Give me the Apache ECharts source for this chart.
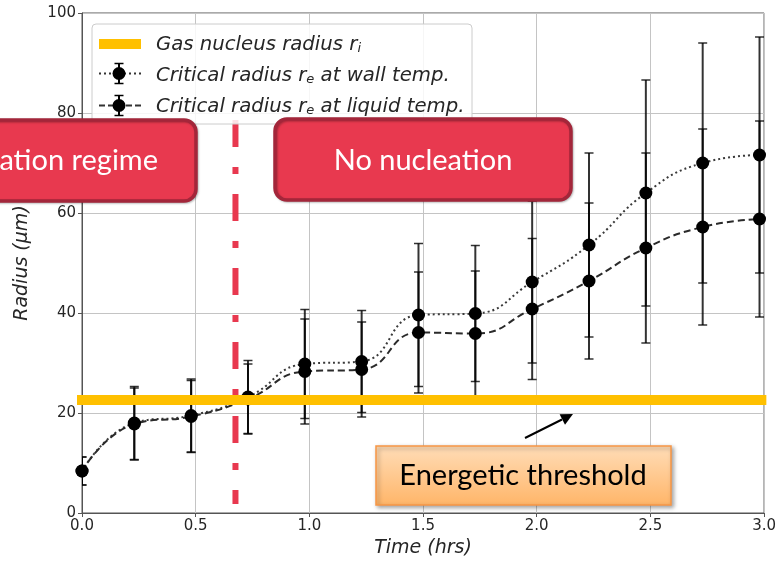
<!DOCTYPE html>
<html>
<head>
<meta charset="utf-8">
<script src="https://cdn.jsdelivr.net/npm/echarts@6/dist/echarts.min.js"></script>
<style>html,body{margin:0;padding:0;background:#fff;}#chart{width:779px;height:565px;}</style>
</head>
<body>
<div id="chart"></div>
<script>
// ---- data ----
var times = [0, 0.23, 0.48, 0.73, 0.98, 1.23, 1.48, 1.73, 1.98, 2.23, 2.48, 2.73, 2.98];
var wallRadius = [8.4, 18.0, 19.5, 23.2, 29.8, 30.3, 39.6, 39.9, 46.2, 53.6, 64.0, 70.0, 71.6];
var wallErr = [2.8, 7.3, 7.3, 7.3, 10.9, 10.2, 14.3, 13.6, 16.2, 18.4, 22.6, 24.0, 23.6];
var liquidRadius = [8.4, 17.8, 19.3, 22.8, 28.3, 28.7, 36.1, 35.9, 40.8, 46.4, 53.0, 57.2, 58.8];
var liquidErr = [2.8, 7.2, 7.2, 7.0, 10.5, 9.5, 12.1, 12.5, 14.1, 15.6, 19.0, 19.6, 19.6];
var gasNucleusRadius = 22.6;
var gasLineTimes = [-0.03, 3.01];
var regimeBoundaryTime = 0.675;
var regimeBoundaryY = [78.6, 1.8];
var xTicks = [0, 0.5, 1.0, 1.5, 2.0, 2.5, 3.0];
var yTicks = [0, 20, 40, 60, 80, 100];

function pairs(xs, ys) { return xs.map(function (x, i) { return [x, ys[i]]; }); }
function errData(xs, ys, es) { return xs.map(function (x, i) { return [x, ys[i] - es[i], ys[i] + es[i]]; }); }

function errRender(params, api) {
  var x = api.value(0), lo = api.value(1), hi = api.value(2);
  var a = api.coord([x, lo]), b = api.coord([x, hi]);
  var st = { stroke: 'rgba(0,0,0,0.8)', lineWidth: 2 };
  var cs = { stroke: 'rgba(0,0,0,0.8)', lineWidth: 1.5 };
  return { type: 'group', children: [
    { type: 'line', shape: { x1: a[0], y1: a[1], x2: b[0], y2: b[1] }, style: st },
    { type: 'line', shape: { x1: a[0] - 4.5, y1: a[1], x2: a[0] + 4.5, y2: a[1] }, style: cs },
    { type: 'line', shape: { x1: b[0] - 4.5, y1: b[1], x2: b[0] + 4.5, y2: b[1] }, style: cs }
  ] };
}

var FONT = 'DejaVu Sans';
var chart = echarts.init(document.getElementById('chart'));

function legendRow(y, dash) {
  return [
    { type: 'line', z: 51, shape: { x1: 99, y1: y, x2: 141, y2: y }, style: { stroke: '#333', lineWidth: 2, lineDash: dash } },
    { type: 'line', z: 52, shape: { x1: 119, y1: y - 10, x2: 119, y2: y + 10 }, style: { stroke: '#000', lineWidth: 2 } },
    { type: 'line', z: 52, shape: { x1: 114.5, y1: y - 10, x2: 123.5, y2: y - 10 }, style: { stroke: '#000', lineWidth: 1.5 } },
    { type: 'line', z: 52, shape: { x1: 114.5, y1: y + 10, x2: 123.5, y2: y + 10 }, style: { stroke: '#000', lineWidth: 1.5 } },
    { type: 'circle', z: 53, shape: { cx: 119, cy: y, r: 6.5 }, style: { fill: '#000' } }
  ];
}

var legendRich = {
  a: { fontFamily: FONT, fontStyle: 'italic', fontSize: 19.7, color: '#262626', lineHeight: 24, verticalAlign: 'bottom' },
  s: { fontFamily: FONT, fontStyle: 'italic', fontSize: 13, color: '#262626', lineHeight: 17, verticalAlign: 'bottom' }
};
function legendText(y, str) {
  return { type: 'text', z: 53, x: 156, y: y, style: { text: str, rich: legendRich, fill: '#262626',
    align: 'left', textAlign: 'left', verticalAlign: 'middle', textVerticalAlign: 'middle' } };
}

var graphics = [
  { type: 'rect', z: 50, shape: { x: 92, y: 24, width: 380, height: 100, r: 4 }, style: { fill: 'rgba(255,255,255,0.85)', stroke: '#cccccc', lineWidth: 1 } },
  { type: 'line', z: 51, shape: { x1: 99, y1: 44, x2: 141, y2: 44 }, style: { stroke: '#FFC000', lineWidth: 10 } },
  legendText(43, '{a|Gas nucleus radius r}{s|i}'),
  legendText(74, '{a|Critical radius r}{s|e}{a| at wall temp.}'),
  legendText(105, '{a|Critical radius r}{s|e}{a| at liquid temp.}')
].concat(legendRow(73.5, [2, 3])).concat(legendRow(105.5, [6, 3])).concat([
  // red boxes
  { type: 'rect', z: 100, shape: { x: -20, y: 120, width: 216, height: 81, r: 12 },
    style: { fill: '#E8394F', stroke: '#A3263A', lineWidth: 3.5, shadowBlur: 2, shadowOffsetX: 1, shadowOffsetY: 1, shadowColor: 'rgba(0,0,0,0.25)' } },
  { type: 'text', z: 101, x: 158, y: 161, style: { text: 'Nucleation regime', font: '29px Lato', fill: '#fff',
    align: 'right', textAlign: 'right', verticalAlign: 'middle', textVerticalAlign: 'middle' } },
  { type: 'rect', z: 100, shape: { x: 275, y: 119, width: 296, height: 81, r: 12 },
    style: { fill: '#E8394F', stroke: '#A3263A', lineWidth: 3.5, shadowBlur: 2, shadowOffsetX: 1, shadowOffsetY: 1, shadowColor: 'rgba(0,0,0,0.25)' } },
  { type: 'text', z: 101, x: 423, y: 161, style: { text: 'No nucleation', font: '29px Lato', fill: '#fff',
    align: 'center', textAlign: 'center', verticalAlign: 'middle', textVerticalAlign: 'middle' } },
  // orange box
  { type: 'rect', z: 100, shape: { x: 376, y: 446, width: 295, height: 59 },
    style: { fill: new echarts.graphic.LinearGradient(0, 0, 0, 1, [{ offset: 0, color: '#FFDDB8' }, { offset: 1, color: '#FFB568' }]),
      stroke: '#F79646', lineWidth: 1.5, shadowBlur: 4, shadowOffsetX: 2, shadowOffsetY: 2, shadowColor: 'rgba(0,0,0,0.35)' } },
  { type: 'text', z: 101, x: 523, y: 476, style: { text: 'Energetic threshold', font: '29px Lato', fill: '#000',
    align: 'center', textAlign: 'center', verticalAlign: 'middle', textVerticalAlign: 'middle' } },
  // arrow
  { type: 'line', z: 100, shape: { x1: 525, y1: 438, x2: 562, y2: 419.5 }, style: { stroke: '#000', lineWidth: 2 } },
  { type: 'polygon', z: 100, shape: { points: [[573, 414], [565, 424.8], [559.6, 414.2]] }, style: { fill: '#000' } }
]);

var option = {
  animation: false,
  backgroundColor: '#fff',
  grid: { left: 82, right: 13, top: 13, bottom: 52, show: true, borderColor: '#555', borderWidth: 1, containLabel: false },
  xAxis: {
    type: 'value', min: xTicks[0], max: xTicks[xTicks.length - 1], interval: 0.5,
    name: 'Time (hrs)', nameLocation: 'middle', nameGap: 26,
    nameTextStyle: { fontFamily: FONT, fontStyle: 'italic', fontSize: 19, color: '#262626' },
    axisLine: { lineStyle: { color: '#555', width: 1 } },
    axisTick: { show: true, length: 4, lineStyle: { color: '#555' } },
    axisLabel: { fontFamily: FONT, fontSize: 15, color: '#262626', margin: 6, formatter: function (v) { return v.toFixed(1); } },
    splitLine: { show: true, lineStyle: { color: '#c4c4c4', width: 1 } }
  },
  yAxis: {
    type: 'value', min: yTicks[0], max: yTicks[yTicks.length - 1], interval: 20,
    name: 'Radius (μm)', nameLocation: 'middle', nameGap: 50,
    nameTextStyle: { fontFamily: FONT, fontStyle: 'italic', fontSize: 19, color: '#262626' },
    axisLine: { show: true, lineStyle: { color: '#555', width: 1 } },
    axisTick: { show: true, length: 4, lineStyle: { color: '#555' } },
    axisLabel: { fontFamily: FONT, fontSize: 15, color: '#262626', margin: 6 },
    splitLine: { show: true, lineStyle: { color: '#c4c4c4', width: 1 } }
  },
  series: [
    { name: 'wallErr', type: 'custom', z: 3, clip: true, renderItem: errRender, data: errData(times, wallRadius, wallErr) },
    { name: 'liquidErr', type: 'custom', z: 3, clip: true, renderItem: errRender, data: errData(times, liquidRadius, liquidErr) },
    { name: 'Critical radius re at wall temp.', type: 'line', z: 4, smooth: 0.5, data: pairs(times, wallRadius),
      symbol: 'circle', symbolSize: 13, itemStyle: { color: '#000' },
      lineStyle: { color: '#3a3a3a', width: 2, type: [2, 3] } },
    { name: 'Critical radius re at liquid temp.', type: 'line', z: 4, smooth: 0.5, data: pairs(times, liquidRadius),
      symbol: 'circle', symbolSize: 13, itemStyle: { color: '#000' },
      lineStyle: { color: '#2a2a2a', width: 2, type: [7, 4] } },
    { name: 'regime boundary', type: 'line', z: 5, clip: false, symbol: 'none',
      data: [[regimeBoundaryTime, regimeBoundaryY[0]], [regimeBoundaryTime, regimeBoundaryY[1]]],
      lineStyle: { color: '#E8384F', width: 6, type: [27, 20, 7, 20] } },
    { name: 'Gas nucleus radius ri', type: 'line', z: 6, clip: false, symbol: 'none',
      data: [[gasLineTimes[0], gasNucleusRadius], [gasLineTimes[1], gasNucleusRadius]],
      lineStyle: { color: '#FFC000', width: 10 } }
  ],
  graphic: { elements: graphics }
};
chart.setOption(option);
</script>
</body>
</html>
